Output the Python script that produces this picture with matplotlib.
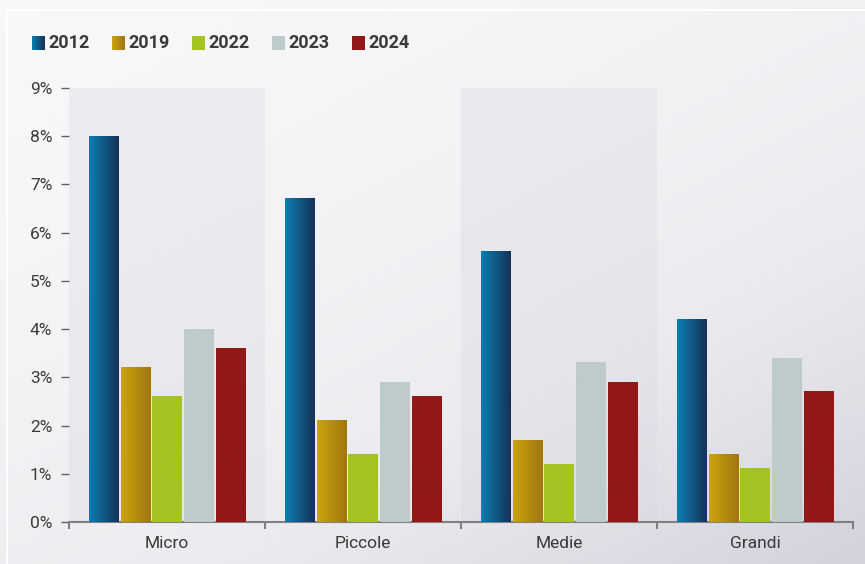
import numpy as np
import matplotlib.pyplot as plt
from matplotlib.colors import LinearSegmentedColormap

plt.rcParams['font.family'] = ['Roboto', 'DejaVu Sans']

categories = ['Micro', 'Piccole', 'Medie', 'Grandi']
years = ['2012', '2019', '2022', '2023', '2024']
v2012 = [8.0, 6.7, 5.6, 4.2]
v2019 = [3.2, 2.1, 1.7, 1.4]
v2022 = [2.6, 1.4, 1.2, 1.1]
v2023 = [4.0, 2.9, 3.3, 3.4]
v2024 = [3.6, 2.6, 2.9, 2.7]
series = [v2012, v2019, v2022, v2023, v2024]
yticks = [0, 1, 2, 3, 4, 5, 6, 7, 8, 9]

# left -> right colour of each bar
grads = [('#0a7eb0', '#173258'), ('#caa40e', '#a0760f'), ('#a4c422', '#a4c422'),
         ('#bdcbcb', '#bdcbcb'), ('#921818', '#921818')]
cmaps = [LinearSegmentedColormap.from_list(f'g{i}', g) for i, g in enumerate(grads)]
hgrad = np.linspace(0, 1, 64).reshape(1, -1)

W, H = 865, 564
fig = plt.figure(figsize=(W / 100, H / 100), dpi=100)

# background + legend in pixel coords
bg = fig.add_axes([0, 0, 1, 1], zorder=-1)
bg.set_xlim(0, W)
bg.set_ylim(H, 0)
bg.axis('off')
yy, xx = np.mgrid[0:1:200j, 0:1:300j]
t = (0.45 * xx + 0.55 * yy)
t = np.clip(t, 0, 1) ** 1.6
bgcmap = LinearSegmentedColormap.from_list('bg', ['#f8f8fa', '#ececf0', '#d2d2dc'])
bg.imshow(t, extent=[0, W, H, 0], cmap=bgcmap, aspect='auto', vmin=0, vmax=1)
bg.plot([7, 7], [10, H], color='white', lw=1.5)
bg.plot([7, W], [10, 10], color='white', lw=1.5)

for i, yr in enumerate(years):
    x0 = 32 + i * 80
    bg.imshow(hgrad, extent=[x0, x0 + 13, 50, 36], cmap=cmaps[i], aspect='auto')
    bg.text(x0 + 16, 43, yr, fontsize=13, fontweight='bold', color='#3a3a3a',
            va='center', ha='left')
bg.set_xlim(0, W)
bg.set_ylim(H, 0)

ax = fig.add_axes([69 / W, 42 / H, (853 - 69) / W, (522 - 88) / H])
ax.set_facecolor('none')

x = np.arange(len(categories))
for i in [0, 2]:
    ax.axvspan(i - 0.5, i + 0.5, ymin=0, ymax=1, color='#d8d8e2', alpha=0.35, lw=0, zorder=0)

step = 0.161
bw = 0.148
for j, vals in enumerate(series):
    bars = ax.bar(x + (j - 2) * step, vals, width=bw, color='none', zorder=2)
    for b in bars:
        bx, bwid, bh = b.get_x(), b.get_width(), b.get_height()
        ax.imshow(hgrad, extent=[bx, bx + bwid, 0, bh], cmap=cmaps[j],
                  aspect='auto', zorder=3)

ax.set_xlim(-0.5, len(categories) - 0.5)
ax.set_ylim(0, 9)
ax.set_yticks(yticks)
ax.set_yticklabels([f'{v}%' for v in yticks])
ax.set_xticks(x)
ax.set_xticklabels(categories)
ax.set_xticks(np.arange(-0.5, len(categories)), minor=True)
ax.tick_params(axis='x', which='major', length=0, pad=10, labelsize=12.5, labelcolor='#3a3a3a')
ax.tick_params(axis='x', which='minor', length=5, width=1.5, color='#808080', direction='out')
ax.tick_params(axis='y', length=6, width=1, color='#606060', pad=6, labelsize=12.5,
               labelcolor='#3a3a3a')
for s in ['top', 'right', 'left']:
    ax.spines[s].set_visible(False)
ax.spines['bottom'].set_color('#808080')
ax.spines['bottom'].set_linewidth(1.5)

fig.savefig('out.png', dpi=100)
